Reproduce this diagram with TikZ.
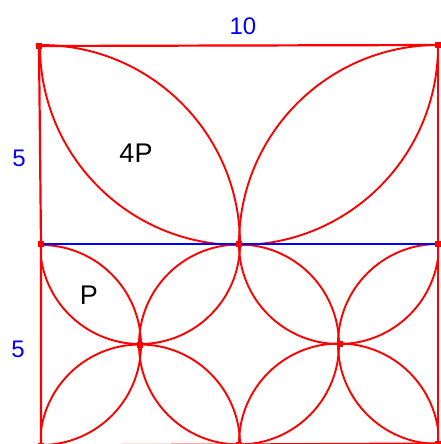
\documentclass[tikz,border=0pt]{standalone}
\usepackage{fontspec}
\setmainfont{Liberation Sans}
\begin{document}
\begin{tikzpicture}[x=1pt,y=-1pt,line join=round]
\tikzset{
 edgeline/.style={red, line width=2.2pt},
 arcline/.style={red, line width=1.9pt},
 midline/.style={blue, line width=2.2pt},
 ptmark/.style={rectangle, fill=red, inner sep=0pt, minimum size=6pt},
 dimlab/.style={text=blue, font=\fontsize{24}{24}\selectfont, inner sep=0pt},
 arealab/.style={text=black, font=\fontsize{27}{27}\selectfont, inner sep=0pt},
}
\useasboundingbox (0,0) rectangle (440,444);
% corner / key points
\coordinate (TL) at (39,46);
\coordinate (TR) at (438,45);
\coordinate (ML) at (41,244);
\coordinate (MM) at (239,244);
\coordinate (MR) at (438,244);
\coordinate (E) at (140,345);
\coordinate (F) at (340,344);
\coordinate (BL) at (41,445.5);
\coordinate (BM) at (239,444.5);
\coordinate (BR) at (438,443.5);
% top half arcs
\begin{scope}
\clip (39,44) rectangle (439,245);
\draw[arcline] (41,244) circle[radius=199pt];
\draw[arcline] (239,46) circle[radius=199pt];
\draw[arcline] (438,244) circle[radius=199pt];
\end{scope}
% bottom half arcs
\begin{scope}
\clip (40,243.5) rectangle (439,444);
\draw[arcline] (140,244) circle[radius=100pt];
\draw[arcline] (339,244) circle[radius=100pt];
\draw[arcline] (41,345) circle[radius=100pt];
\draw[arcline] (239,344.5) circle[radius=100pt];
\draw[arcline] (438,344) circle[radius=100pt];
\draw[arcline] (140,444.5) circle[radius=100pt];
\draw[arcline] (339,443.5) circle[radius=100pt];
\end{scope}
% square edges
\draw[edgeline] (TL) -- (TR);
\draw[edgeline] (TL) -- (ML) -- (BL);
\draw[edgeline] (TR) -- (MR) -- (BR);
\draw[edgeline] (BL) -- (BR);
\draw[midline] (ML) -- (MR);
% point markers
\foreach \p in {TL,TR,ML,MM,MR,E,F,BL,BM,BR}
  \node[ptmark] (m\p) at (\p) {};
% labels
\node[dimlab] (ltop) at (243,26) {10};
\node[dimlab] (lleft1) at (19,158) {5};
\node[dimlab] (lleft2) at (18,349) {5};
\node[arealab] (l4p) at (136,153) {4P};
\node[arealab] (lp) at (89,295) {P};
\end{tikzpicture}
\end{document}
